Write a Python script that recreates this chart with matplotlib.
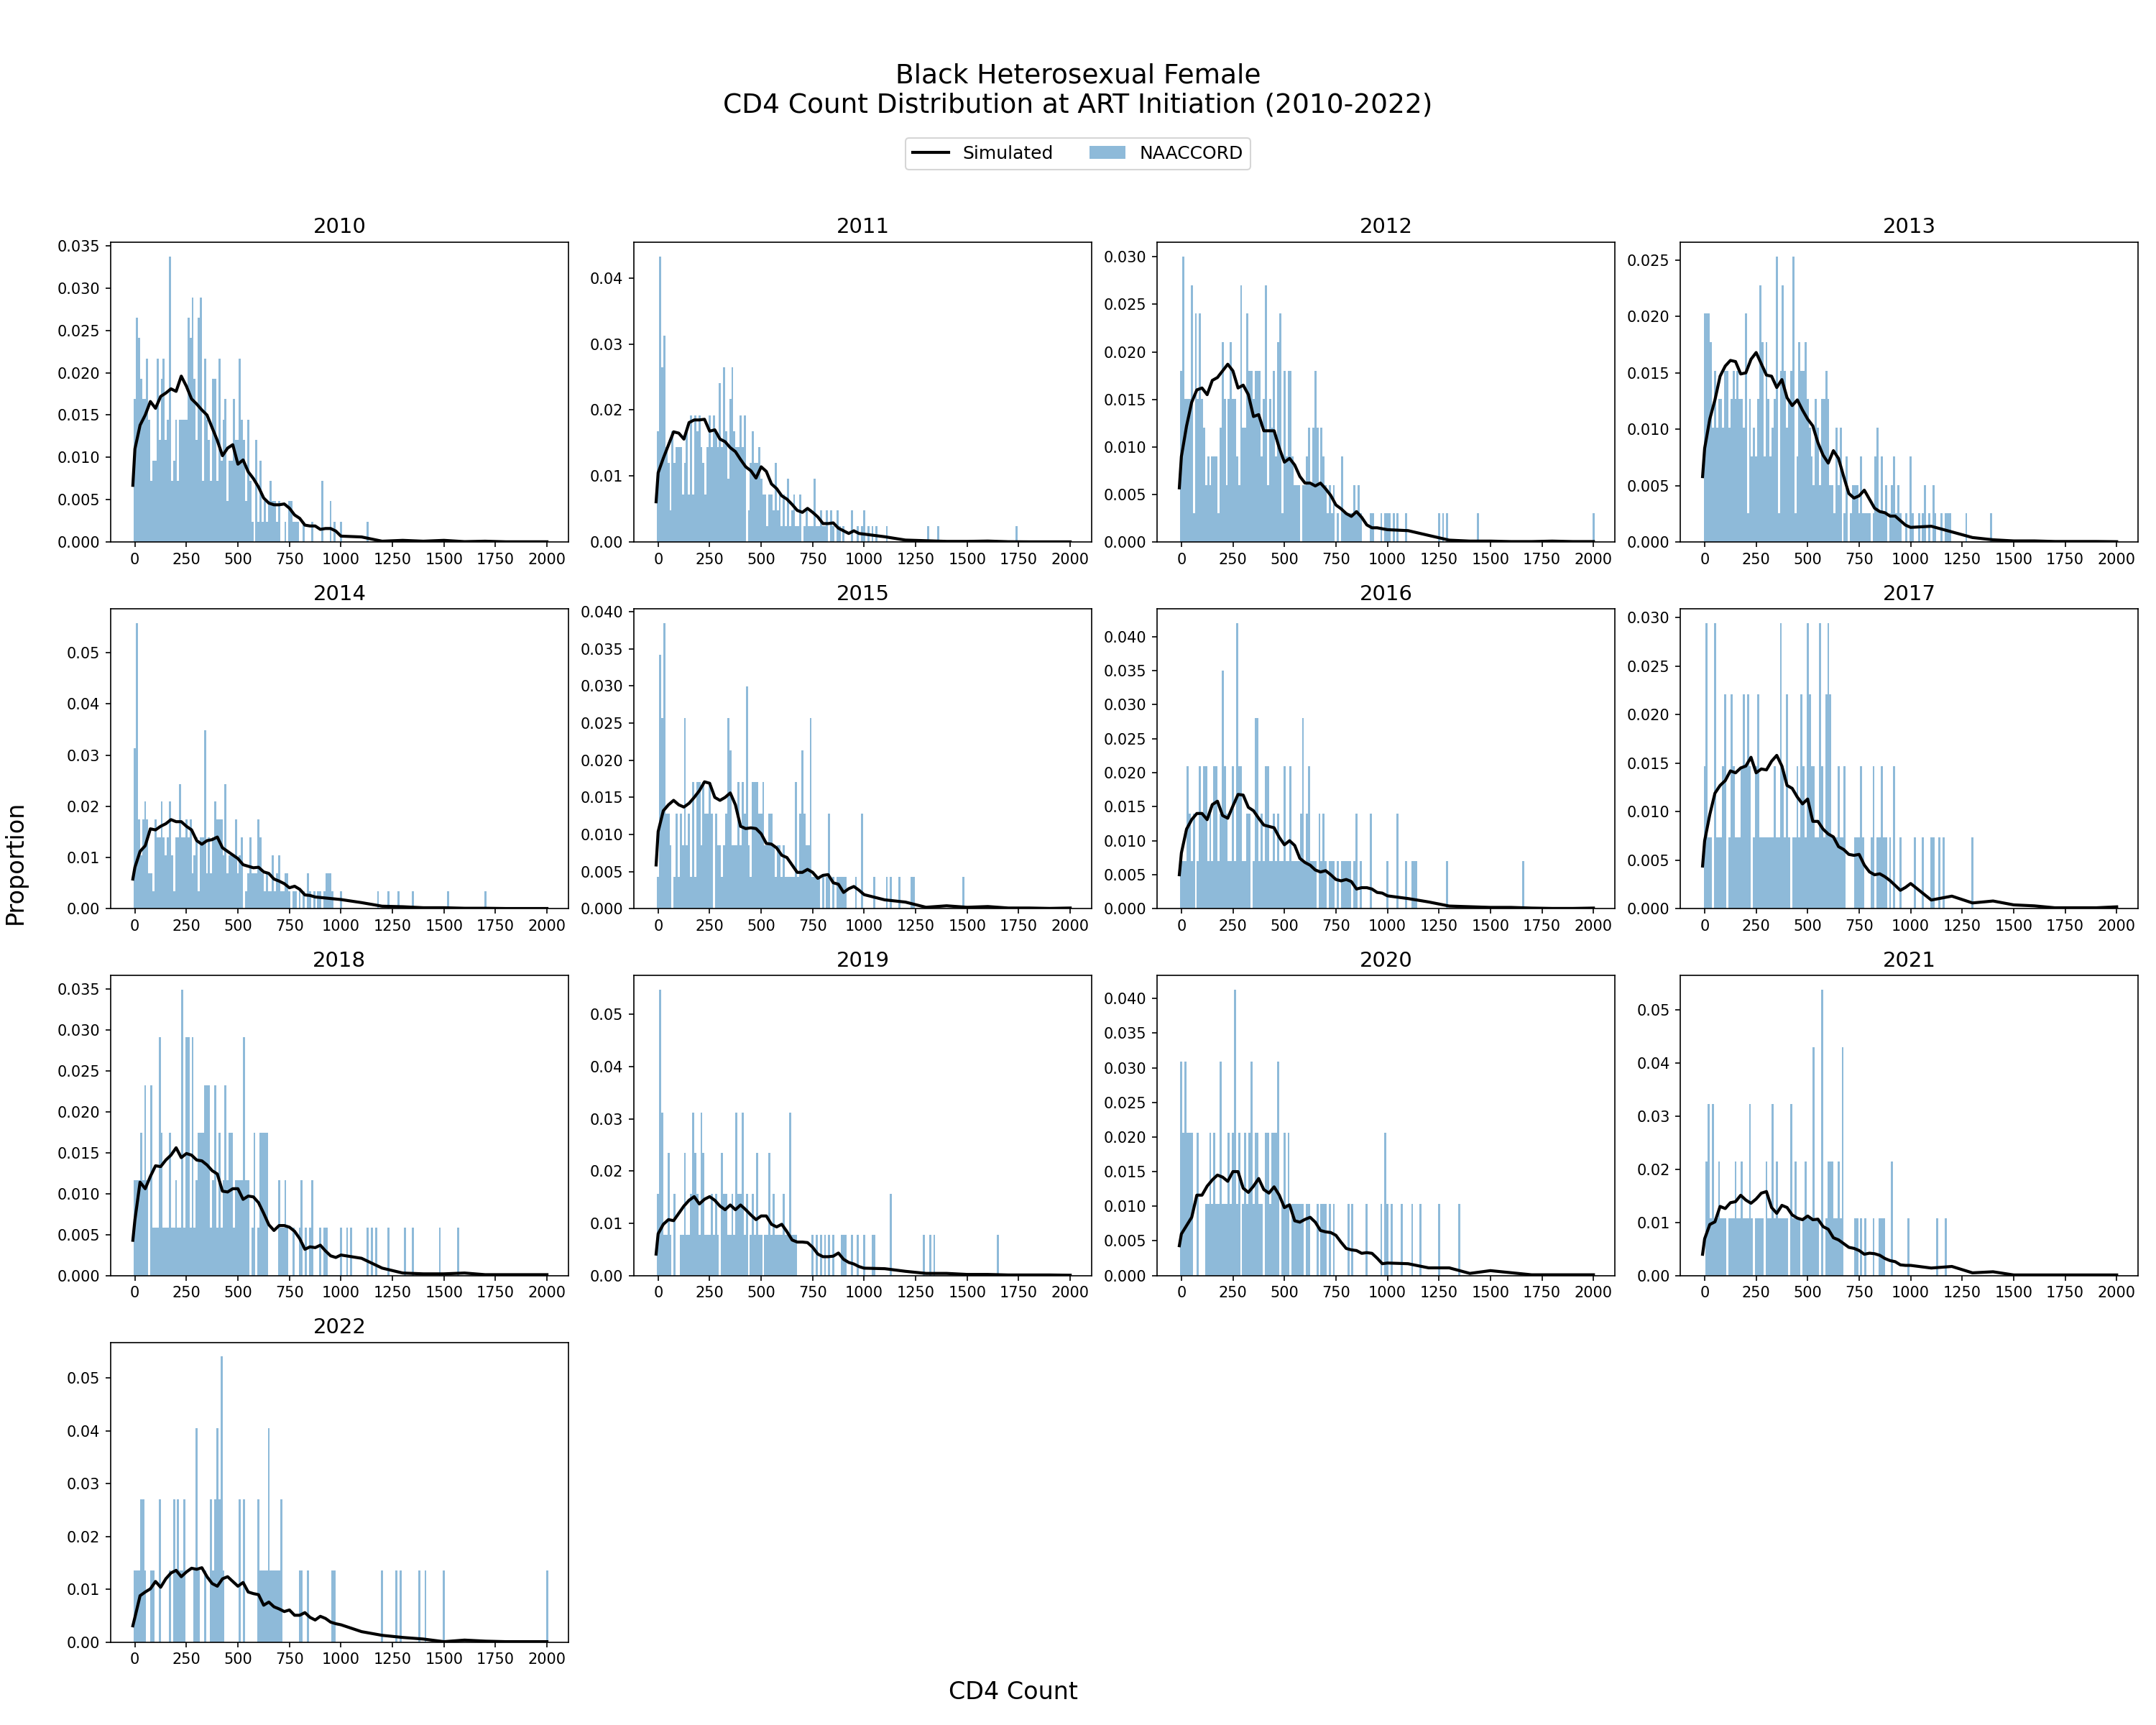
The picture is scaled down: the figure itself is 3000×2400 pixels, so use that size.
import matplotlib
matplotlib.use("Agg")
import matplotlib.pyplot as plt
import numpy as np

# NAACCORD: number of patients per 10-cell CD4 bin, and total patients per year
counts_2010 = {0: 7, 10: 11, 20: 10, 30: 8, 40: 7, 50: 7, 60: 9, 70: 6, 80: 3, 90: 4, 100: 4, 110: 9, 120: 5,
               130: 8, 140: 9, 150: 5, 160: 6, 170: 14, 180: 3, 190: 4, 200: 6, 210: 3, 220: 6, 230: 6, 240: 6,
               250: 6, 260: 11, 270: 10, 280: 12, 290: 8, 300: 5, 310: 11, 320: 12, 330: 3, 340: 9, 350: 6,
               360: 5, 370: 3, 380: 8, 390: 8, 400: 3, 410: 9, 420: 4, 430: 6, 440: 7, 450: 2, 460: 4, 470: 4,
               480: 7, 490: 5, 500: 5, 510: 9, 520: 6, 530: 5, 540: 2, 550: 6, 560: 3, 570: 1, 590: 5, 600: 1,
               610: 4, 620: 1, 630: 2, 640: 1, 650: 2, 660: 3, 670: 2, 680: 2, 690: 1, 700: 2, 730: 1, 750: 2,
               760: 2, 770: 1, 780: 1, 790: 1, 820: 1, 860: 1, 910: 3, 950: 2, 970: 1, 1000: 1, 1130: 1}
counts_2011 = {0: 7, 10: 18, 20: 11, 30: 13, 40: 6, 50: 5, 60: 2, 70: 7, 80: 5, 90: 6, 100: 6, 110: 6, 120: 3,
               130: 5, 140: 7, 150: 3, 160: 8, 170: 3, 180: 8, 190: 7, 200: 8, 210: 6, 220: 5, 230: 3, 240: 6,
               250: 8, 260: 6, 270: 8, 280: 7, 290: 6, 300: 10, 310: 6, 320: 11, 330: 7, 340: 4, 350: 9, 360: 11,
               370: 7, 380: 6, 390: 6, 400: 8, 410: 6, 420: 8, 440: 2, 450: 5, 460: 7, 470: 5, 480: 5, 490: 6,
               500: 4, 510: 3, 520: 3, 530: 1, 540: 3, 550: 3, 560: 2, 570: 5, 580: 2, 590: 3, 600: 1, 610: 3,
               620: 1, 630: 4, 640: 1, 650: 2, 660: 3, 670: 1, 680: 1, 690: 3, 710: 1, 720: 2, 730: 1, 740: 1,
               750: 1, 760: 4, 770: 1, 780: 1, 790: 2, 800: 1, 810: 1, 820: 2, 840: 2, 850: 1, 870: 2, 880: 1,
               900: 1, 940: 2, 970: 1, 990: 1, 1000: 2, 1020: 1, 1040: 1, 1060: 1, 1110: 1, 1310: 1, 1360: 1,
               1740: 1}
counts_2012 = {0: 6, 10: 10, 20: 5, 30: 5, 40: 5, 50: 9, 60: 1, 70: 8, 80: 5, 90: 8, 100: 5, 110: 4, 120: 2,
               130: 3, 140: 2, 150: 3, 160: 3, 170: 3, 180: 1, 190: 4, 200: 7, 210: 5, 220: 2, 230: 5, 240: 7,
               250: 5, 260: 5, 270: 3, 280: 2, 290: 9, 300: 4, 310: 4, 320: 8, 330: 6, 340: 6, 350: 5, 360: 6,
               370: 6, 380: 6, 390: 3, 400: 5, 410: 9, 420: 2, 430: 5, 440: 4, 450: 6, 460: 3, 470: 7, 480: 8,
               490: 1, 500: 6, 510: 3, 520: 6, 530: 6, 540: 3, 550: 2, 560: 2, 570: 2, 590: 2, 600: 2, 610: 3,
               620: 4, 630: 2, 640: 4, 650: 6, 660: 4, 670: 2, 680: 4, 690: 3, 700: 2, 710: 1, 720: 2, 730: 1,
               740: 2, 760: 1, 780: 3, 790: 1, 800: 1, 810: 1, 820: 1, 830: 1, 840: 2, 850: 1, 860: 2, 870: 1,
               920: 1, 930: 1, 970: 1, 990: 1, 1000: 1, 1010: 1, 1030: 1, 1050: 1, 1090: 1, 1250: 1, 1270: 1,
               1290: 1, 1440: 1, 2000: 1}
counts_2013 = {0: 8, 10: 8, 20: 8, 30: 7, 40: 4, 50: 6, 60: 4, 70: 5, 80: 5, 90: 4, 100: 6, 110: 6, 120: 4,
               130: 5, 140: 6, 150: 5, 160: 6, 170: 5, 180: 5, 190: 4, 200: 8, 210: 1, 220: 5, 230: 3, 240: 4,
               250: 3, 260: 5, 270: 9, 280: 7, 290: 3, 300: 7, 310: 5, 320: 3, 330: 4, 340: 5, 350: 10, 360: 1,
               370: 6, 380: 9, 390: 6, 400: 4, 410: 5, 420: 6, 430: 10, 440: 1, 450: 3, 460: 7, 470: 6, 480: 6,
               490: 7, 500: 5, 510: 4, 520: 3, 530: 2, 540: 5, 550: 4, 560: 2, 570: 5, 580: 5, 590: 6, 600: 5,
               610: 2, 620: 2, 630: 1, 640: 4, 650: 2, 660: 4, 680: 1, 690: 3, 710: 1, 720: 2, 730: 2, 740: 2,
               750: 1, 760: 3, 770: 1, 780: 1, 790: 1, 800: 1, 820: 1, 830: 3, 840: 4, 850: 1, 860: 3, 870: 1,
               880: 2, 900: 1, 910: 2, 920: 3, 930: 1, 940: 2, 950: 1, 980: 1, 1000: 3, 1010: 1, 1040: 1,
               1060: 1, 1070: 2, 1090: 1, 1110: 2, 1120: 1, 1150: 1, 1170: 1, 1180: 1, 1190: 1, 1270: 1, 1390: 1}
counts_2014 = {0: 9, 10: 16, 20: 5, 30: 3, 40: 5, 50: 6, 60: 5, 70: 2, 80: 2, 90: 1, 100: 5, 110: 4, 120: 4,
               130: 6, 140: 4, 150: 3, 160: 4, 170: 6, 180: 3, 190: 1, 200: 4, 210: 4, 220: 7, 230: 4, 240: 4,
               250: 5, 260: 4, 270: 5, 280: 2, 290: 3, 300: 4, 310: 1, 320: 4, 330: 4, 340: 10, 350: 2, 360: 4,
               370: 2, 380: 4, 390: 6, 400: 5, 410: 5, 420: 5, 430: 3, 440: 7, 450: 2, 460: 3, 470: 3, 480: 3,
               490: 5, 500: 2, 510: 3, 520: 4, 540: 1, 550: 2, 560: 4, 570: 2, 580: 2, 590: 2, 600: 5, 610: 4,
               620: 2, 630: 1, 640: 2, 650: 1, 660: 1, 670: 3, 680: 1, 690: 2, 700: 3, 710: 1, 720: 1, 730: 2,
               740: 2, 750: 1, 770: 1, 780: 1, 800: 1, 820: 1, 840: 2, 850: 1, 870: 1, 890: 1, 900: 1, 920: 1,
               930: 2, 940: 2, 950: 2, 960: 1, 1000: 1, 1180: 1, 1230: 1, 1280: 1, 1350: 1, 1520: 1, 1700: 1}
counts_2015 = {0: 1, 10: 8, 20: 6, 30: 9, 40: 3, 50: 3, 60: 2, 80: 1, 90: 3, 100: 1, 110: 3, 120: 2, 130: 6,
               140: 2, 150: 3, 160: 1, 170: 4, 180: 1, 190: 4, 200: 4, 210: 2, 220: 4, 230: 3, 240: 3, 250: 4,
               260: 3, 280: 3, 290: 2, 300: 2, 310: 1, 320: 2, 330: 3, 340: 6, 350: 5, 360: 2, 370: 2, 380: 2,
               390: 4, 400: 2, 410: 4, 420: 3, 430: 7, 440: 2, 450: 1, 460: 4, 470: 4, 480: 4, 490: 3, 500: 3,
               510: 4, 520: 2, 530: 2, 540: 3, 550: 3, 560: 2, 570: 1, 580: 2, 590: 2, 600: 1, 610: 2, 620: 1,
               630: 1, 640: 1, 650: 1, 660: 1, 670: 4, 680: 1, 690: 3, 700: 5, 710: 3, 720: 2, 730: 2, 740: 6,
               750: 1, 760: 1, 770: 1, 780: 1, 800: 1, 820: 1, 830: 3, 850: 1, 870: 1, 880: 1, 890: 1, 900: 1,
               910: 1, 960: 1, 990: 3, 1050: 1, 1110: 1, 1130: 1, 1170: 1, 1230: 1, 1240: 1, 1480: 1}
counts_2016 = {0: 1, 10: 1, 20: 1, 30: 3, 40: 2, 50: 1, 60: 2, 80: 1, 90: 3, 100: 2, 110: 3, 120: 3, 130: 1,
               140: 2, 150: 1, 160: 3, 170: 3, 180: 1, 190: 2, 200: 5, 210: 3, 220: 2, 230: 1, 240: 1, 250: 3,
               260: 1, 270: 6, 280: 3, 290: 3, 300: 1, 310: 1, 320: 2, 330: 2, 350: 1, 360: 4, 370: 4, 380: 1,
               390: 2, 400: 1, 410: 3, 420: 3, 430: 1, 440: 1, 450: 2, 460: 1, 470: 2, 480: 1, 490: 1, 500: 3,
               510: 1, 520: 1, 530: 3, 540: 1, 550: 1, 560: 1, 570: 1, 580: 2, 590: 4, 600: 1, 610: 2, 620: 3,
               630: 1, 640: 1, 650: 1, 670: 2, 680: 1, 690: 2, 700: 1, 720: 1, 730: 1, 740: 1, 760: 1, 780: 1,
               790: 1, 800: 1, 810: 1, 820: 1, 840: 1, 850: 2, 870: 1, 920: 2, 1000: 1, 1050: 2, 1090: 1,
               1120: 1, 1130: 1, 1140: 1, 1290: 1, 1660: 1}
counts_2017 = {0: 2, 10: 4, 20: 1, 30: 1, 50: 4, 60: 1, 70: 1, 80: 1, 90: 2, 100: 3, 120: 1, 130: 3, 140: 2,
               150: 1, 160: 1, 170: 1, 180: 2, 190: 3, 200: 2, 210: 3, 220: 2, 240: 1, 250: 2, 260: 3, 270: 1,
               280: 1, 290: 1, 300: 1, 310: 1, 320: 1, 330: 1, 340: 2, 350: 1, 360: 1, 370: 4, 380: 2, 390: 1,
               400: 3, 410: 1, 430: 1, 440: 1, 450: 2, 460: 1, 470: 3, 480: 2, 490: 1, 500: 4, 510: 3, 520: 2,
               530: 2, 540: 1, 550: 1, 560: 4, 570: 2, 580: 1, 590: 3, 600: 4, 610: 3, 620: 1, 630: 1, 640: 1,
               650: 2, 660: 1, 670: 1, 680: 2, 730: 1, 740: 1, 750: 1, 760: 2, 770: 1, 810: 1, 820: 2, 840: 1,
               850: 1, 860: 2, 870: 1, 880: 1, 900: 1, 920: 2, 950: 1, 1020: 1, 1060: 1, 1100: 1, 1110: 1,
               1140: 1, 1160: 1, 1300: 1}
counts_2018 = {0: 2, 10: 2, 20: 2, 30: 3, 40: 2, 50: 4, 60: 2, 80: 4, 90: 1, 100: 1, 110: 1, 120: 5, 130: 3,
               140: 1, 150: 1, 160: 1, 170: 3, 180: 1, 190: 1, 200: 2, 210: 1, 220: 1, 230: 6, 240: 1, 250: 5,
               260: 5, 270: 1, 280: 5, 290: 1, 300: 2, 310: 3, 320: 3, 330: 3, 340: 4, 350: 4, 360: 4, 370: 1,
               380: 2, 390: 4, 400: 1, 410: 3, 420: 1, 430: 2, 440: 4, 450: 2, 460: 3, 470: 3, 480: 1, 490: 2,
               500: 2, 510: 2, 520: 2, 530: 5, 540: 2, 550: 2, 570: 1, 580: 3, 600: 1, 610: 3, 620: 3, 630: 3,
               640: 3, 700: 2, 710: 1, 720: 1, 730: 2, 740: 1, 770: 1, 800: 1, 810: 2, 830: 1, 850: 1, 860: 2,
               900: 1, 920: 1, 930: 1, 1000: 1, 1030: 1, 1050: 1, 1130: 1, 1150: 1, 1170: 1, 1230: 1, 1310: 1,
               1350: 1, 1480: 1, 1570: 1}
counts_2019 = {0: 2, 10: 7, 20: 4, 30: 1, 40: 1, 50: 3, 60: 1, 80: 2, 110: 1, 120: 1, 130: 3, 140: 1, 150: 1,
               160: 2, 170: 4, 180: 3, 190: 2, 200: 1, 210: 4, 220: 3, 230: 1, 240: 1, 250: 1, 260: 2, 270: 1,
               280: 2, 290: 1, 310: 3, 320: 2, 330: 2, 340: 1, 350: 1, 360: 2, 370: 1, 380: 4, 390: 2, 400: 2,
               410: 4, 420: 1, 430: 2, 450: 1, 460: 2, 470: 1, 480: 3, 490: 1, 500: 1, 520: 1, 530: 1, 540: 3,
               550: 1, 560: 2, 570: 1, 580: 1, 590: 1, 600: 1, 610: 2, 620: 1, 630: 1, 640: 4, 650: 1, 660: 1,
               670: 1, 750: 1, 770: 1, 790: 1, 810: 1, 830: 1, 850: 1, 890: 1, 900: 1, 910: 1, 940: 1, 970: 1,
               1000: 1, 1040: 1, 1050: 1, 1130: 2, 1290: 1, 1320: 1, 1340: 1, 1650: 1}
counts_2020 = {0: 3, 10: 2, 20: 3, 30: 2, 40: 2, 50: 2, 80: 2, 120: 1, 130: 1, 140: 2, 150: 1, 160: 2, 170: 1,
               180: 1, 190: 3, 200: 1, 210: 1, 220: 1, 230: 2, 240: 1, 250: 2, 260: 4, 270: 1, 280: 2, 300: 1,
               310: 2, 320: 1, 330: 2, 340: 3, 350: 1, 360: 2, 370: 2, 380: 1, 390: 1, 410: 2, 420: 2, 430: 1,
               440: 2, 450: 2, 460: 2, 470: 3, 490: 1, 500: 2, 510: 1, 520: 2, 540: 1, 550: 1, 560: 1, 570: 1,
               580: 1, 590: 1, 610: 1, 620: 1, 660: 1, 680: 1, 690: 1, 700: 1, 720: 1, 740: 1, 810: 1, 830: 1,
               900: 1, 970: 1, 990: 2, 1000: 1, 1020: 1, 1070: 1, 1120: 1, 1160: 1, 1250: 1, 1350: 1}
counts_2021 = {10: 2, 20: 3, 30: 1, 40: 3, 50: 1, 60: 1, 70: 2, 80: 1, 90: 1, 100: 1, 120: 1, 130: 1, 140: 1,
               150: 2, 160: 1, 170: 1, 180: 2, 190: 1, 200: 1, 210: 1, 220: 3, 230: 1, 250: 1, 260: 1, 270: 1,
               280: 1, 300: 2, 310: 1, 320: 1, 330: 3, 340: 1, 350: 2, 360: 1, 370: 1, 380: 1, 390: 1, 400: 1,
               420: 3, 430: 1, 440: 2, 450: 1, 460: 1, 480: 1, 490: 2, 500: 1, 510: 1, 520: 1, 530: 4, 540: 1,
               550: 1, 570: 5, 590: 1, 600: 2, 610: 2, 620: 2, 630: 1, 640: 1, 650: 2, 660: 1, 670: 4, 730: 1,
               740: 1, 760: 1, 780: 1, 820: 1, 850: 1, 860: 1, 870: 1, 910: 2, 990: 1, 1130: 1, 1170: 1}
counts_2022 = {0: 1, 10: 1, 20: 1, 30: 2, 40: 2, 50: 1, 80: 1, 90: 1, 120: 2, 170: 1, 190: 2, 200: 1, 210: 2,
               220: 1, 230: 1, 240: 2, 290: 1, 300: 3, 310: 1, 340: 1, 370: 2, 380: 1, 390: 2, 400: 3, 410: 2,
               420: 4, 430: 1, 510: 2, 530: 2, 600: 2, 610: 1, 620: 1, 630: 1, 640: 1, 650: 3, 660: 1, 670: 1,
               680: 1, 690: 1, 700: 1, 710: 2, 800: 1, 810: 1, 840: 1, 960: 1, 970: 1, 1200: 1, 1270: 1,
               1290: 1, 1380: 1, 1410: 1, 1500: 1, 2000: 1}

n_patients = {2010: 415, 2011: 416, 2012: 333, 2013: 395, 2014: 287, 2015: 234, 2016: 143,
              2017: 136, 2018: 172, 2019: 128, 2020: 97, 2021: 93, 2022: 74}

# Simulated distribution, read at these CD4 values
sim_x = [-10, 0, 25, 50, 75, 100, 125, 150, 175, 200, 225, 250, 275, 300, 325, 350, 375, 400, 425, 450,
         475, 500, 525, 550, 575, 600, 625, 650, 675, 700, 725, 750, 775, 800, 825, 850, 875, 900, 925,
         950, 975, 1000, 1100, 1200, 1300, 1400, 1500, 1600, 1700, 1800, 1900, 2000]

sim_2010 = [.0067, .0110, .0138, .0150, .0166, .0158, .0172, .0176, .0181, .0178, .0196, .0184, .0169, .0163,
            .0156, .0150, .0135, .0120, .0102, .0111, .0115, .0092, .0097, .0083, .0075, .0065, .0052, .0046,
            .0044, .0044, .0045, .0040, .0032, .0028, .0020, .0019, .0019, .0015, .0016, .0016, .0013, .0007,
            .0006, .0001, .0002, .0001, .0002, .00005, .0001, .00003, .00003, .00003]
sim_2011 = [.0061, .0105, .0127, .0147, .0167, .0165, .0156, .0181, .0185, .0185, .0186, .0168, .0170, .0156,
            .0152, .0143, .0137, .0125, .0114, .0108, .0097, .0114, .0107, .0088, .0081, .0070, .0065, .0057,
            .0048, .0045, .0051, .0045, .0038, .0028, .0028, .0029, .0021, .0017, .0013, .0017, .0013, .0012,
            .0008, .0003, .0002, .0001, .0001, .00015, .00005, .00003, .00003, .00003]
sim_2012 = [.0057, .0090, .0122, .0147, .0160, .0162, .0155, .0170, .0173, .0180, .0187, .0180, .0162, .0165,
            .0155, .0132, .0134, .0117, .0117, .0117, .0099, .0084, .0088, .0081, .0069, .0062, .0062, .0059,
            .0062, .0056, .0049, .0039, .0035, .0030, .0027, .0032, .0026, .0018, .0015, .0015, .0014, .0013,
            .0012, .0007, .0002, .0001, .0001, .00005, .00005, .0001, .00005, .00005]
sim_2013 = [.0058, .0083, .0109, .0126, .0147, .0156, .0161, .0160, .0149, .0150, .0162, .0168, .0158, .0148,
            .0147, .0137, .0144, .0128, .0121, .0126, .0117, .0109, .0103, .0088, .0077, .0070, .0081, .0074,
            .0058, .0043, .0039, .0041, .0046, .0038, .0030, .0027, .0026, .0023, .0023, .0019, .0015, .0013,
            .0014, .0009, .0004, .0002, .0001, .0001, .00005, .00005, .00005, .00003]
sim_2014 = [.0058, .0081, .0112, .0123, .0156, .0154, .0161, .0166, .0174, .0170, .0170, .0161, .0154, .0133,
            .0126, .0133, .0135, .0140, .0119, .0112, .0105, .0098, .0086, .0083, .0080, .0081, .0072, .0069,
            .0058, .0054, .0049, .0041, .0044, .0038, .0027, .0026, .0023, .0022, .0021, .0020, .0019, .0018,
            .0012, .0005, .0004, .0002, .0002, .0001, .0001, .00005, .00005, .00005]
sim_2015 = [.0059, .0104, .0132, .0140, .0146, .0140, .0137, .0142, .0150, .0159, .0171, .0169, .0150, .0146,
            .0150, .0156, .0140, .0111, .0108, .0109, .0108, .0101, .0088, .0087, .0082, .0072, .0069, .0059,
            .0049, .0049, .0053, .0049, .0041, .0045, .0046, .0035, .0033, .0022, .0027, .0030, .0025, .0019,
            .0012, .0009, .0002, .0004, .0002, .0003, .0001, .0001, .00005, .0001]
sim_2016 = [.0050, .0082, .0117, .0131, .0140, .0140, .0131, .0153, .0158, .0137, .0133, .0151, .0168, .0167,
            .0149, .0144, .0133, .0123, .0121, .0119, .0105, .0094, .0100, .0093, .0074, .0068, .0064, .0057,
            .0054, .0056, .0050, .0043, .0041, .0043, .0040, .0029, .0031, .0031, .0029, .0024, .0023, .0019,
            .0015, .0010, .0004, .0003, .0002, .0002, .0001, .00005, .00005, .0001]
sim_2017 = [.0044, .0070, .0097, .0119, .0127, .0132, .0142, .0140, .0145, .0147, .0156, .0140, .0144, .0143,
            .0152, .0158, .0147, .0127, .0124, .0115, .0108, .0113, .0090, .0090, .0082, .0077, .0074, .0064,
            .0061, .0056, .0055, .0056, .0045, .0038, .0035, .0036, .0033, .0029, .0024, .0019, .0022, .0026,
            .0009, .0013, .0006, .0008, .0004, .0003, .0001, .0001, .0001, .0002]
sim_2018 = [.0043, .0068, .0114, .0106, .0121, .0134, .0133, .0141, .0147, .0156, .0144, .0149, .0147, .0141,
            .0140, .0135, .0128, .0124, .0103, .0102, .0106, .0106, .0093, .0097, .0096, .0089, .0076, .0062,
            .0055, .0061, .0061, .0059, .0054, .0045, .0032, .0035, .0034, .0037, .0030, .0024, .0022, .0025,
            .0021, .0009, .0003, .0002, .0002, .0003, .0001, .0001, .0001, .0001]
sim_2019 = [.0041, .0080, .0098, .0107, .0105, .0119, .0133, .0144, .0151, .0137, .0146, .0151, .0144, .0133,
            .0126, .0135, .0126, .0135, .0126, .0116, .0107, .0114, .0114, .0098, .0093, .0098, .0084, .0068,
            .0064, .0064, .0063, .0054, .0041, .0036, .0036, .0037, .0043, .0031, .0025, .0022, .0017, .0014,
            .0013, .0008, .0004, .0004, .0002, .0002, .0001, .0001, .0001, .00005]
sim_2020 = [.0043, .0060, .0072, .0084, .0116, .0116, .0129, .0138, .0145, .0142, .0136, .0150, .0150, .0126,
            .0120, .0129, .0140, .0124, .0119, .0128, .0116, .0098, .0102, .0079, .0077, .0081, .0084, .0077,
            .0065, .0063, .0062, .0058, .0048, .0039, .0037, .0036, .0032, .0033, .0032, .0025, .0017, .0018,
            .0017, .0011, .0011, .0003, .0007, .0004, .0001, .0001, .0001, .0001]
sim_2021 = [.0040, .0069, .0096, .0101, .0130, .0126, .0137, .0139, .0151, .0142, .0136, .0144, .0155, .0158,
            .0128, .0117, .0132, .0128, .0114, .0108, .0105, .0112, .0105, .0106, .0092, .0087, .0071, .0067,
            .0060, .0053, .0051, .0047, .0040, .0042, .0041, .0038, .0032, .0028, .0026, .0020, .0019, .0019,
            .0014, .0017, .0005, .0007, .0001, .0001, .0001, .0001, .0001, .0001]
sim_2022 = [.0031, .0047, .0088, .0095, .0101, .0115, .0104, .0120, .0131, .0136, .0124, .0133, .0140, .0138,
            .0141, .0124, .0111, .0106, .0120, .0124, .0115, .0106, .0113, .0095, .0092, .0090, .0070, .0076,
            .0067, .0063, .0058, .0061, .0051, .0051, .0056, .0047, .0042, .0049, .0045, .0038, .0035, .0033,
            .0020, .0013, .0009, .0006, .0001, .0004, .0002, .0001, .0001, .0001]

years = [2010, 2011, 2012, 2013, 2014, 2015, 2016, 2017, 2018, 2019, 2020, 2021, 2022]
naaccord = dict(zip(years, [counts_2010, counts_2011, counts_2012, counts_2013, counts_2014, counts_2015,
                            counts_2016, counts_2017, counts_2018, counts_2019, counts_2020, counts_2021,
                            counts_2022]))
simulated = dict(zip(years, [sim_2010, sim_2011, sim_2012, sim_2013, sim_2014, sim_2015, sim_2016, sim_2017,
                             sim_2018, sim_2019, sim_2020, sim_2021, sim_2022]))

fig, axes = plt.subplots(4, 4, figsize=(20, 16))
fig.subplots_adjust(left=0.0513, right=0.9917, bottom=0.048, top=0.8596, wspace=0.143, hspace=0.223)

for ax, year in zip(axes.flat, years):
    counts = naaccord[year]
    bins = np.array(list(counts.keys()))
    props = np.array(list(counts.values())) / n_patients[year]
    bars = ax.bar(bins, props, width=10, color='tab:blue', alpha=0.5, label='NAACCORD')
    line, = ax.plot(sim_x, simulated[year], color='black', linewidth=2, label='Simulated')
    ax.set_title(str(year), fontsize=14)
    ax.set_xlim(-118, 2104)
    ax.set_xticks([0, 250, 500, 750, 1000, 1250, 1500, 1750, 2000])

for ax in axes.flat[len(years):]:
    ax.remove()

fig.text(0.5, 0.9475, 'Black Heterosexual Female\nCD4 Count Distribution at ART Initiation (2010-2022)',
         ha='center', va='center', fontsize=18)
fig.legend(handles=[line, bars], labels=['Simulated', 'NAACCORD'], loc='center',
           bbox_to_anchor=(0.5, 0.911), ncol=2, fontsize=12)
fig.text(0.47, 0.019, 'CD4 Count', ha='center', va='center', fontsize=16)
fig.text(0.007, 0.5, 'Proportion', ha='center', va='center', rotation=90, fontsize=16)

fig.savefig('out.png', dpi=150)
